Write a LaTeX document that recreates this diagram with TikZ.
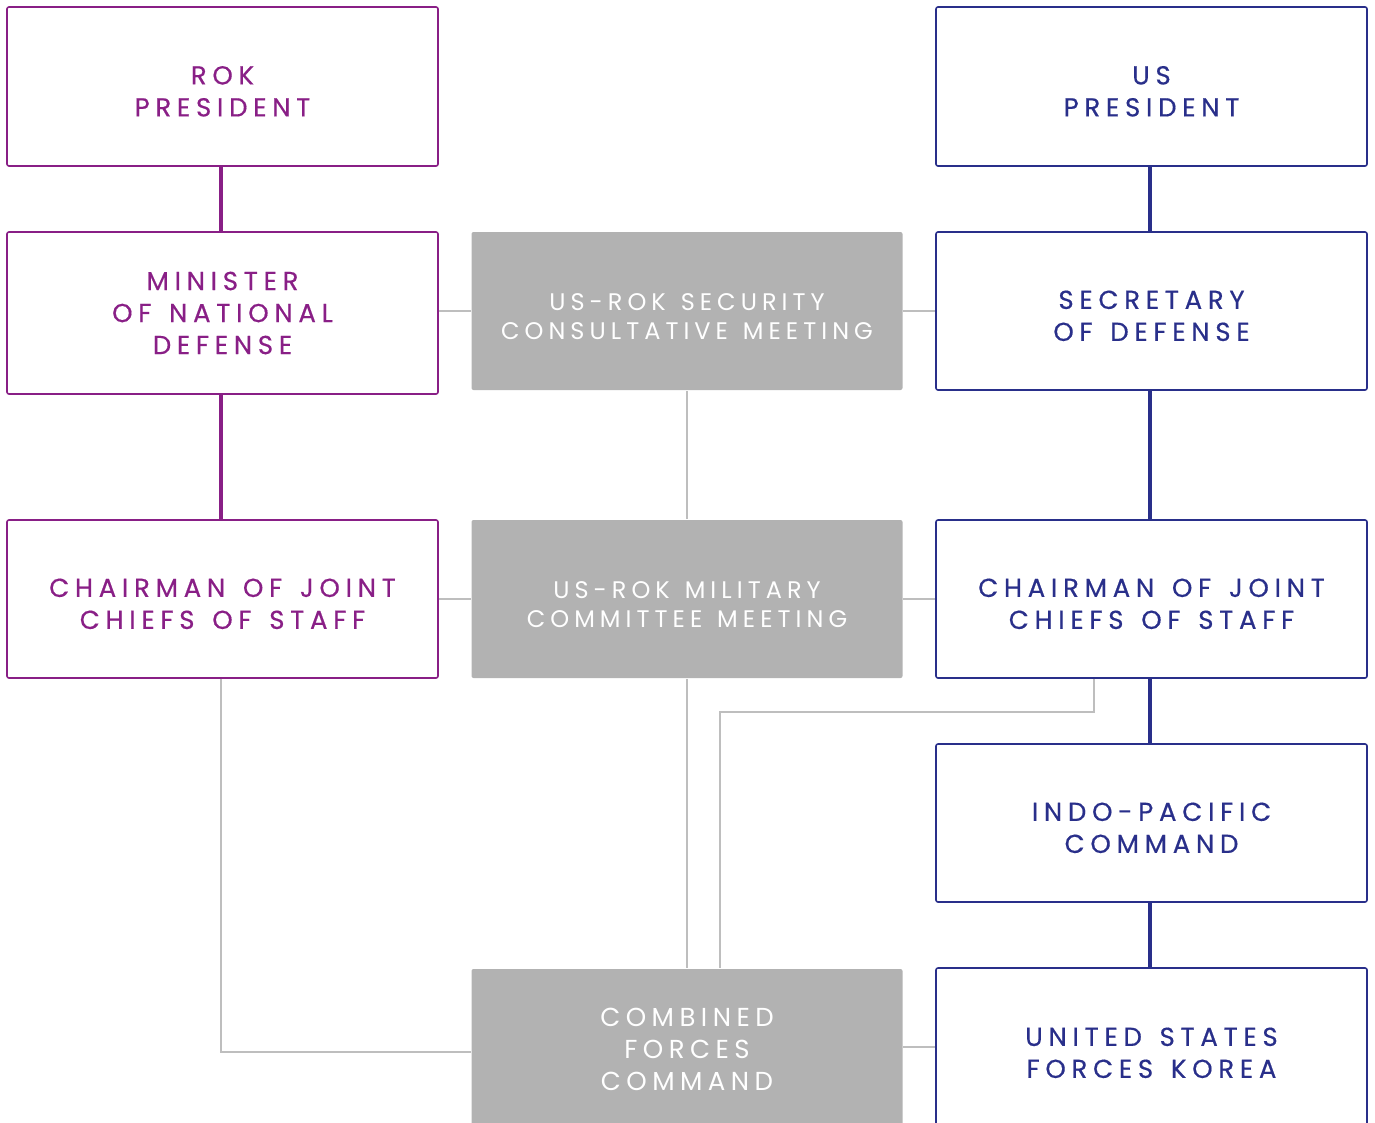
\documentclass[tikz,border=0pt]{standalone}
\usepackage{fontspec}
\setmainfont{Poppins}
\newfontfamily\unitfont{Poppins}[LetterSpace=22, WordSpace=1.4, FakeBold=0.5]
\newfontfamily\jointfont{Poppins}[LetterSpace=21, WordSpace=1.3]
\usetikzlibrary{positioning}

\definecolor{rokpurple}{RGB}{137,31,134}
\definecolor{usnavy}{RGB}{41,47,138}
\definecolor{jointgray}{RGB}{178,178,178}
\definecolor{linkgray}{RGB}{190,190,190}

% lowers a two-line label a little, as in the chart
\newcommand\padtop{\rule{0pt}{28pt}}

\tikzset{
    unit/.style={minimum width=431pt, minimum height=158pt, align=center,
        font=\unitfont\fontsize{26}{32}\selectfont, rounded corners=2pt, line width=1.6pt},
    rok/.style={unit, draw=rokpurple, text=rokpurple},
    us/.style={unit, draw=usnavy, text=usnavy},
    joint/.style={unit, fill=jointgray, text=white,
        font=\jointfont\fontsize{24}{29}\selectfont},
    rokline/.style={rokpurple, line width=3.5pt},
    usline/.style={usnavy, line width=3.5pt},
    link/.style={linkgray, line width=1.3pt}
}

\begin{document}
\begin{tikzpicture}[x=1pt,y=-1pt]
    \useasboundingbox (0,0) rectangle (1375,1122);

    % ROK side
    \node[rok, minimum height=159pt] (rokpres) at (222.5,86.5) {\padtop ROK\\PRESIDENT};
    \node[rok, minimum height=162pt] (rokmnd) at (222.5,313) {MINISTER\\OF NATIONAL\\DEFENSE};
    \node[rok] (rokjcs) at (222.5,599) {\padtop CHAIRMAN OF JOINT\\CHIEFS OF STAFF};

    % Combined bodies
    \node[joint] (scm) at (687,311) {\padtop US-ROK SECURITY\\CONSULTATIVE MEETING};
    \node[joint] (mcm) at (687,599) {\padtop US-ROK MILITARY\\COMMITTEE MEETING};
    \node[joint, minimum height=160pt, font=\jointfont\fontsize{26}{32}\selectfont]
        (cfc) at (687,1049) {COMBINED\\FORCES\\COMMAND};

    % US side
    \node[us, minimum height=159pt] (uspres) at (1151.5,86.5) {\padtop US\\PRESIDENT};
    \node[us] (secdef) at (1151.5,311) {\padtop SECRETARY\\OF DEFENSE};
    \node[us] (usjcs) at (1151.5,599) {\padtop CHAIRMAN OF JOINT\\CHIEFS OF STAFF};
    \node[us] (indopacom) at (1151.5,823) {\padtop INDO-PACIFIC\\COMMAND};
    \node[us, minimum height=160pt] (usfk) at (1151.5,1048) {\padtop UNITED STATES\\FORCES KOREA};

    % Chains of command
    \draw[rokline] (rokpres.south -| 221,0) -- (rokmnd.north -| 221,0);
    \draw[rokline] (rokmnd.south -| 221,0) -- (rokjcs.north -| 221,0);
    \draw[usline] (uspres.south -| 1150,0) -- (secdef.north -| 1150,0);
    \draw[usline] (secdef.south -| 1150,0) -- (usjcs.north -| 1150,0);
    \draw[usline] (usjcs.south -| 1150,0) -- (indopacom.north -| 1150,0);
    \draw[usline] (indopacom.south -| 1150,0) -- (usfk.north -| 1150,0);

    % Consultation links
    \draw[link] (rokmnd.east |- scm.west) -- (scm.west);
    \draw[link] (scm.east) -- (secdef.west);
    \draw[link] (scm.south) -- (mcm.north);
    \draw[link] (rokjcs.east) -- (mcm.west);
    \draw[link] (mcm.east) -- (usjcs.west);
    \draw[link] (mcm.south) -- (cfc.north);
    \draw[link] (rokjcs.south -| 221,0) |- (cfc.west |- 0,1052);
    \draw[link] (usjcs.south -| 1094,0) |- (720,712) -- (cfc.north -| 720,0);
    \draw[link] (cfc.east |- 0,1047) -- (usfk.west |- 0,1047);
\end{tikzpicture}
\end{document}
